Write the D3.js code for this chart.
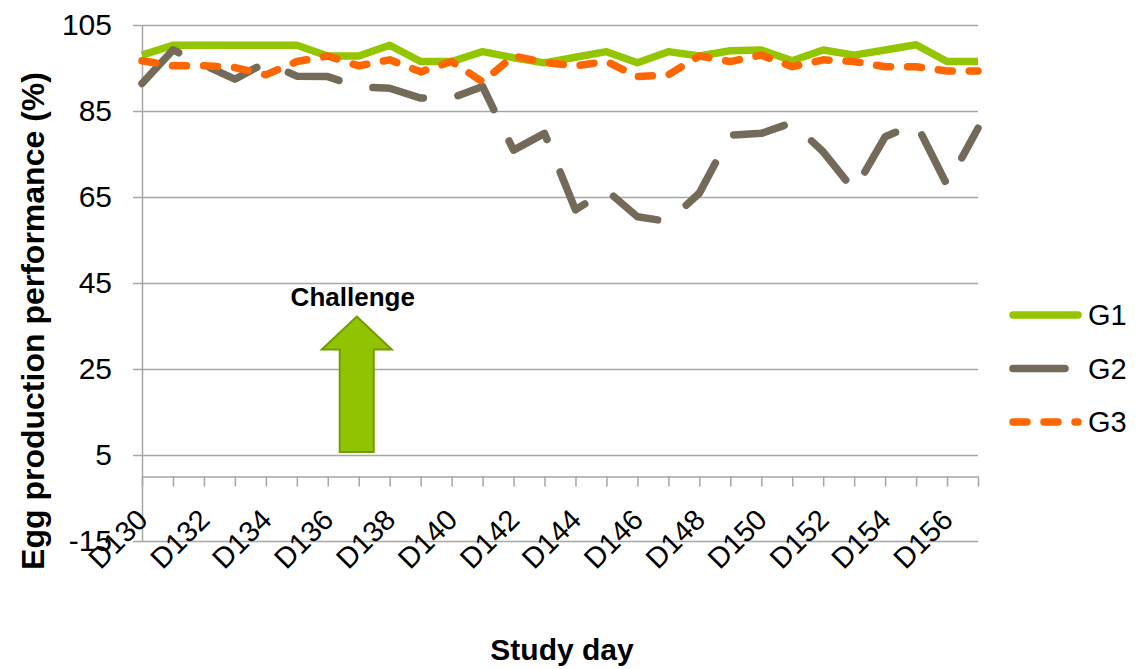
<!DOCTYPE html>
<html>
<head>
<meta charset="utf-8">
<script src="https://cdn.jsdelivr.net/npm/d3@7"></script>
<style>
  body { margin: 0; background: #fff; }
  svg text { font-family: Arial, 'Liberation Sans', sans-serif; fill: #000; }
</style>
</head>
<body>
<svg id="chart" width="1147" height="669"></svg>
<script>
// study days (category axis), one point per day
const days = ['D130', 'D131', 'D132', 'D133', 'D134', 'D135', 'D136', 'D137', 'D138', 'D139',
  'D140', 'D141', 'D142', 'D143', 'D144', 'D145', 'D146', 'D147', 'D148', 'D149',
  'D150', 'D151', 'D152', 'D153', 'D154', 'D155', 'D156', 'D157'];
const yTicks = [-15, 5, 25, 45, 65, 85, 105];
const seriesNames = ['G1', 'G2', 'G3'];

// egg production performance (%)
const g1 = [98.0, 100.3, 100.3, 100.3, 100.3, 100.3, 97.8, 97.8, 100.3, 96.5,
  96.5, 98.8, 97.4, 96.2, 97.5, 98.8, 96.2, 98.8, 97.8, 99.0,
  99.2, 96.7, 99.2, 98.0, 99.2, 100.4, 96.5, 96.5];
const g2 = [91.4, 99.2, 95.7, 92.4, 96.3, 93.1, 93.0, 90.6, 90.3, 88.0,
  88.0, 90.7, 75.9, 79.8, 62.0, 66.6, 60.4, 59.3, 65.9, 79.4,
  79.8, 82.3, 75.5, 66.5, 79.0, 82.1, 67.8, 81.0];
const g3 = [96.7, 95.5, 95.5, 95.1, 93.4, 96.5, 97.8, 95.5, 96.9, 94.1,
  96.5, 91.8, 97.8, 96.3, 95.5, 96.5, 93.0, 93.4, 97.8, 96.5,
  98.0, 95.3, 96.9, 96.5, 95.3, 95.3, 94.3, 94.3];

// challenge annotation: day and value span of the arrow
const challengeDay = 'D137';
const challengeFrom = 5.7;
const challengeTo = 37.2;

const styles = {
  G1: { color: '#93c600', dash: null },
  G2: { color: '#736a5a', dash: '52,35' },
  G3: { color: '#ff6600', dash: '14,17' }
};

let svg = d3.select('#chart');
svg.append('rect').attr('width', 1147).attr('height', 669).attr('fill', '#fff');

let x = d3.scalePoint().domain(days).range([142, 978]);
let y = d3.scaleLinear().domain([-15, 105]).range([541, 25]);

// horizontal gridlines
svg.append('g')
  .attr('transform', 'translate(142,0)')
  .call(d3.axisLeft(y).tickValues(yTicks).tickSize(-836).tickFormat(''))
  .call(g => g.select('.domain').remove())
  .call(g => g.selectAll('line').attr('stroke', '#a6a6a6').attr('stroke-width', 1.5));

// value axis
svg.append('g')
  .attr('transform', 'translate(142,0)')
  .call(d3.axisLeft(y).tickValues(yTicks).tickSize(9).tickSizeOuter(0).tickPadding(21).tickFormat(d => String(d)))
  .call(g => g.selectAll('line, path').attr('stroke', '#a6a6a6').attr('stroke-width', 1.5))
  .call(g => g.selectAll('text').attr('font-size', 30).attr('fill', '#000'));

// category axis, crossing at 0
svg.append('g')
  .attr('transform', `translate(0,${y(0)})`)
  .call(d3.axisBottom(x).tickSize(10).tickSizeOuter(0).tickFormat((d, i) => i % 2 === 0 ? d : ''))
  .call(g => g.selectAll('line, path').attr('stroke', '#a6a6a6').attr('stroke-width', 1.5))
  .call(g => g.selectAll('text')
    .attr('font-size', 29)
    .attr('fill', '#000')
    .attr('text-anchor', 'end')
    .attr('x', 0).attr('y', 0).attr('dy', 0)
    .attr('transform', 'translate(7,45) rotate(-45)'));

// series
let line = d3.line()
  .x((d, i) => x(days[i]))
  .y(d => y(d));

[g1, g2, g3].forEach((vals, k) => {
  let s = styles[seriesNames[k]];
  svg.append('path')
    .datum(vals)
    .attr('d', line)
    .attr('fill', 'none')
    .attr('stroke', s.color)
    .attr('stroke-width', 7.5)
    .attr('stroke-linejoin', 'round')
    .attr('stroke-linecap', s.dash ? 'round' : 'butt')
    .attr('stroke-dasharray', s.dash);
});

// challenge arrow
let ax = x(challengeDay) - 2;
let tipY = y(challengeTo);
let baseY = y(challengeFrom);
let headY = tipY + 33;
svg.append('path')
  .attr('d', `M${ax},${tipY} L${ax + 35},${headY} L${ax + 17},${headY} L${ax + 17},${baseY}
    L${ax - 17},${baseY} L${ax - 17},${headY} L${ax - 35},${headY} Z`)
  .attr('fill', '#92c300')
  .attr('stroke', '#739c00')
  .attr('stroke-width', 2);

svg.append('text')
  .attr('x', ax - 4)
  .attr('y', tipY - 11)
  .attr('text-anchor', 'middle')
  .attr('font-size', 26)
  .attr('font-weight', 'bold')
  .text('Challenge');

// legend
let legend = svg.append('g').attr('transform', 'translate(1013,0)');
seriesNames.forEach((name, k) => {
  let s = styles[name];
  let ly = 315 + k * 53.5;
  legend.append('line')
    .attr('x1', 0).attr('x2', 65)
    .attr('y1', ly).attr('y2', ly)
    .attr('stroke', s.color)
    .attr('stroke-width', 7.5)
    .attr('stroke-linecap', 'round')
    .attr('stroke-dasharray', s.dash);
  legend.append('text')
    .attr('x', 75)
    .attr('y', ly + 10)
    .attr('font-size', 29)
    .text(name);
});

// axis titles
svg.append('text')
  .attr('transform', 'translate(44,321) rotate(-90)')
  .attr('text-anchor', 'middle')
  .attr('font-size', 32)
  .attr('font-weight', 'bold')
  .text('Egg production performance (%)');

svg.append('text')
  .attr('x', 562)
  .attr('y', 660)
  .attr('text-anchor', 'middle')
  .attr('font-size', 30)
  .attr('font-weight', 'bold')
  .text('Study day');
</script>
</body>
</html>
